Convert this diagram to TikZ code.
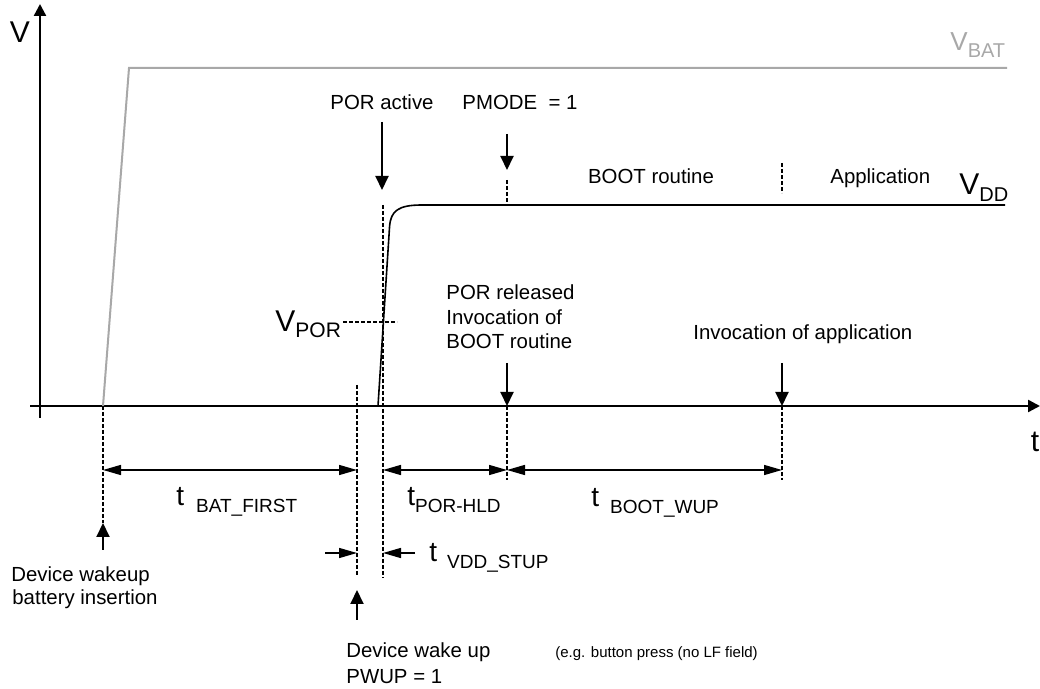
\documentclass[tikz,border=0pt]{standalone}
\usepackage{fontspec}
\setmainfont{Liberation Sans}
\usetikzlibrary{arrows.meta}
\definecolor{vbatgray}{RGB}{168,168,168}
\newcommand\fsz[1]{\fontsize{#1}{#1}\selectfont}
\newcommand\tsubl[2]{{\fsz{14}t}\hspace{#1}\raisebox{-3.5pt}{\fsz{9.5}#2}}
\begin{document}
\begin{tikzpicture}[x=0.5pt,y=-0.5pt,
  axisline/.style={line width=1.2pt,-{Triangle[length=6pt,width=6pt]}},
  vbatline/.style={line width=1pt,draw=vbatgray},
  vddline/.style={line width=0.8pt},
  dashln/.style={line width=0.6pt,dash pattern=on 2pt off 1pt},
  dimarrow/.style={line width=0.75pt,{Triangle[length=9pt,width=5pt]}-{Triangle[length=9pt,width=5pt]}},
  halfdim/.style={line width=0.75pt,-{Triangle[length=9pt,width=5pt]}},
  ptr/.style={line width=1pt,-{Triangle[length=7pt,width=6.5pt]}},
  lbl/.style={inner sep=0pt,font=\fsz{10.2}},
  lblw/.style={inner sep=0pt,font=\fsz{10.2},anchor=base west},
  lblc/.style={inner sep=0pt,font=\fsz{10.2},anchor=base}]
\useasboundingbox (0,0) rectangle (1040,689);

% axes
\coordinate (vbot) at (40,418);
\coordinate (vtop) at (40,4);
\coordinate (tleft) at (30,406);
\coordinate (tright) at (1040,406);
\draw[axisline] (vbot) -- (vtop);
\draw[axisline] (tleft) -- (tright);
\node[lblc,font=\fsz{15}] (Vlab) at (20,43) {V};
\node[lblc,font=\fsz{15}] (tlab) at (1035,452) {t};

% VBAT
\coordinate (b0) at (103,406);
\coordinate (b1) at (129,68);
\coordinate (b2) at (1007,68);
\draw[vbatline] (b0) -- (b1) -- (b2);
\node[lblw,text=vbatgray] (vbatlab) at (950,51) {{\fsz{13}V}\raisebox{-3.5pt}{\fsz{10}BAT}};

% VDD
\coordinate (d0) at (378,406);
\coordinate (d1) at (389.6,226);
\coordinate (d2) at (422,205);
\coordinate (d3) at (1005,205);
\draw[vddline] (d0) -- (d1) .. controls (391,211) and (398,205) .. (d2) -- (d3);
\node[lblw] (vddlab) at (959,195) {{\fsz{15}V}\raisebox{-3.5pt}{\fsz{10}DD}};

% VPOR
\node[lblw] (vporlab) at (275,332) {{\fsz{15}V}\raisebox{-3pt}{\fsz{10.5}POR}};
\coordinate (p0) at (343,322);
\coordinate (p1) at (397,322);
\draw[dashln] (p0) -- (p1);

% dashed verticals
\coordinate (x1a) at (103,406); \coordinate (x1b) at (103,523);
\coordinate (x2a) at (357,385); \coordinate (x2b) at (357,576);
\coordinate (x3a) at (383,205); \coordinate (x3b) at (383,578);
\coordinate (x4a) at (507,406); \coordinate (x4b) at (507,480);
\coordinate (x5a) at (782,406); \coordinate (x5b) at (782,480);
\coordinate (x6a) at (507,180); \coordinate (x6b) at (507,205);
\coordinate (x7a) at (782,163); \coordinate (x7b) at (782,193);
\foreach \a/\b in {x1a/x1b,x2a/x2b,x3a/x3b,x4a/x4b,x5a/x5b,x6a/x6b,x7a/x7b}
  \draw[dashln] (\a) -- (\b);

% top labels and pointers
\node[lblc] (poract) at (382,110) {POR active};
\coordinate (pa0) at (382,122); \coordinate (pa1) at (382,190);
\draw[ptr] (pa0) -- (pa1);
\node[lblw] (pmode) at (462,110) {PMODE\ \ = 1};
\coordinate (pm0) at (507,134); \coordinate (pm1) at (507,170);
\draw[ptr] (pm0) -- (pm1);
\node[lblc] (bootr) at (651,184) {BOOT routine};
\node[lblw] (appl) at (830,184) {Application};

% POR released
\node[lblw] (porrel1) at (446,300) {POR released};
\node[lblw] (porrel2) at (446,325) {Invocation of};
\node[lblw] (porrel3) at (446,349) {BOOT routine};
\coordinate (pr0) at (507,363); \coordinate (pr1) at (507,406);
\draw[ptr] (pr0) -- (pr1);

% invocation of application
\node[lblw] (invapp) at (693,340) {Invocation of application};
\coordinate (ia0) at (782,363); \coordinate (ia1) at (782,406);
\draw[ptr] (ia0) -- (ia1);

% dimension arrows
\coordinate (m1) at (103,470); \coordinate (m2) at (357,470);
\coordinate (m3) at (383,470); \coordinate (m4) at (507,470);
\coordinate (m5) at (782,470);
\draw[dimarrow] (m1) -- (m2);
\draw[dimarrow] (m3) -- (m4);
\draw[dimarrow] (m4) -- (m5);
\coordinate (s0) at (325,553); \coordinate (s1) at (357,553);
\coordinate (s2) at (415,553); \coordinate (s3) at (383,553);
\draw[halfdim] (s0) -- (s1);
\draw[halfdim] (s2) -- (s3);

\node[lblw] (tbat) at (176,506) {\tsubl{6pt}{BAT\_FIRST}};
\node[lblw] (tpor) at (407,506) {\tsubl{0pt}{POR-HLD}};
\node[lblw] (tboot) at (591,507) {\tsubl{5.5pt}{BOOT\_WUP}};
\node[lblw] (tvdd) at (429,562) {\tsubl{5pt}{VDD\_STUP}};

% bottom pointers and labels
\coordinate (u0) at (103,550); \coordinate (u1) at (103,523);
\draw[ptr] (u0) -- (u1);
\node[lblw] (dw1) at (11,582) {Device wakeup};
\node[lblw] (dw2) at (12,605) {battery insertion};
\coordinate (w0) at (357,620); \coordinate (w1) at (357,590);
\draw[ptr] (w0) -- (w1);
\node[lblw] (dwu1) at (346,658) {Device wake up};
\node[lblw] (dwu2) at (346,683) {PWUP = 1};
\node[lblw,font=\fsz{7.5}] (eg) at (555,658) {(e.g. button press (no LF field)};
\end{tikzpicture}
\end{document}
